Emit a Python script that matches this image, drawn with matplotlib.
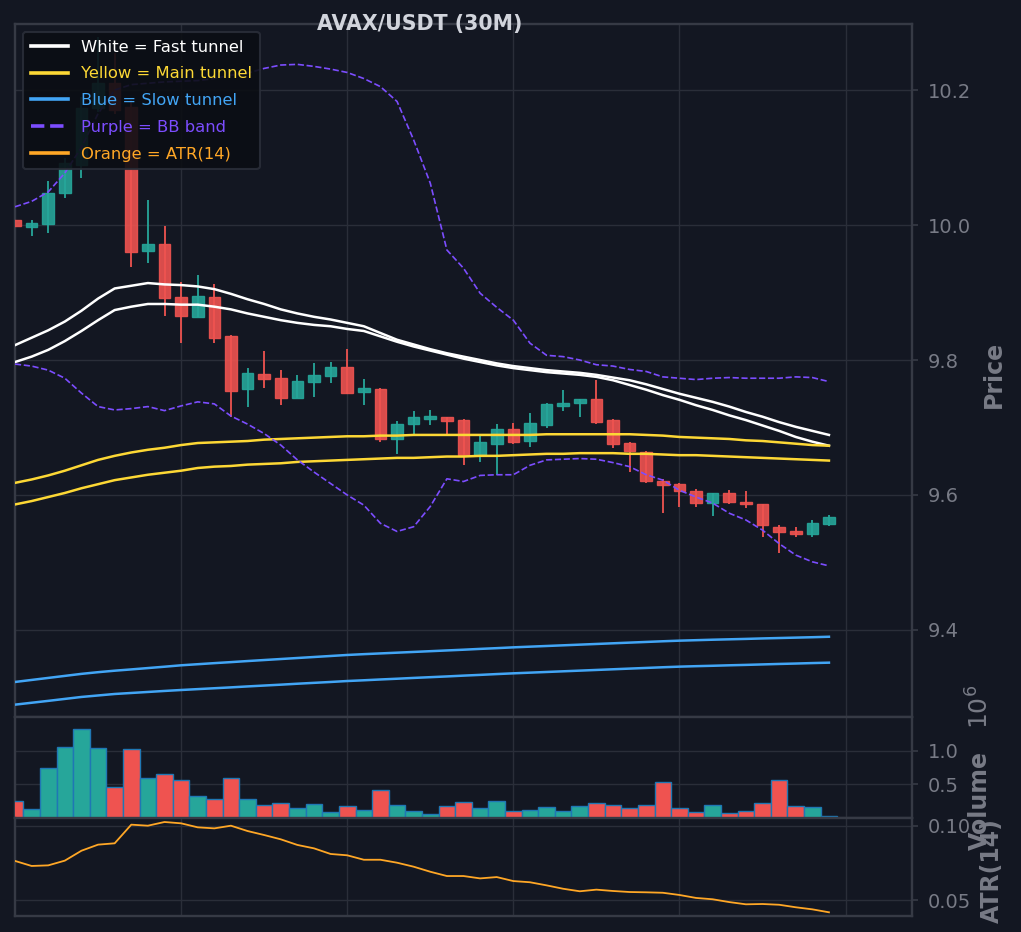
import numpy as np
import matplotlib
matplotlib.use('Agg')
import matplotlib.pyplot as plt
from matplotlib.lines import Line2D
from matplotlib.ticker import FuncFormatter

# --- data (AVAX/USDT, 30m candles) ---
opens = [10.008, 9.997, 10.002, 10.047, 10.089, 10.173, 10.210, 10.175, 9.961, 9.972,
         9.893, 9.864, 9.893, 9.836, 9.757, 9.779, 9.773, 9.744, 9.767, 9.776,
         9.790, 9.753, 9.757, 9.683, 9.705, 9.713, 9.716, 9.711, 9.659, 9.676,
         9.698, 9.680, 9.704, 9.732, 9.736, 9.742, 9.711, 9.677, 9.664, 9.621,
         9.616, 9.606, 9.588, 9.603, 9.590, 9.587, 9.553, 9.547, 9.542, 9.557]
highs = [10.012, 10.007, 10.065, 10.100, 10.190, 10.279, 10.255, 10.185, 10.037, 9.999,
         9.916, 9.926, 9.913, 9.837, 9.788, 9.813, 9.785, 9.778, 9.796, 9.797,
         9.816, 9.772, 9.759, 9.710, 9.724, 9.726, 9.716, 9.713, 9.690, 9.705,
         9.707, 9.721, 9.736, 9.756, 9.742, 9.770, 9.713, 9.679, 9.665, 9.624,
         9.618, 9.609, 9.603, 9.607, 9.606, 9.587, 9.556, 9.553, 9.563, 9.570]
lows = [9.996, 9.984, 9.988, 10.040, 10.070, 10.168, 10.165, 9.938, 9.944, 9.865,
        9.825, 9.864, 9.825, 9.716, 9.730, 9.758, 9.733, 9.744, 9.745, 9.766,
        9.750, 9.733, 9.679, 9.661, 9.690, 9.704, 9.690, 9.644, 9.649, 9.630,
        9.676, 9.671, 9.699, 9.724, 9.716, 9.705, 9.670, 9.634, 9.618, 9.573,
        9.582, 9.582, 9.569, 9.587, 9.581, 9.538, 9.514, 9.538, 9.538, 9.554]
closes = [9.998, 10.003, 10.047, 10.092, 10.173, 10.210, 10.170, 9.960, 9.972, 9.892,
          9.865, 9.895, 9.833, 9.754, 9.781, 9.772, 9.744, 9.769, 9.778, 9.790,
          9.751, 9.758, 9.683, 9.705, 9.716, 9.717, 9.710, 9.659, 9.679, 9.698,
          9.679, 9.707, 9.735, 9.736, 9.742, 9.708, 9.676, 9.665, 9.621, 9.615,
          9.606, 9.588, 9.603, 9.590, 9.587, 9.556, 9.545, 9.542, 9.559, 9.567]
volume_m = [0.25, 0.128, 0.745, 1.06, 1.32, 1.044, 0.466, 1.02, 0.598, 0.657,
            0.569, 0.333, 0.289, 0.598, 0.275, 0.196, 0.216, 0.147, 0.201, 0.083,
            0.172, 0.118, 0.422, 0.186, 0.098, 0.054, 0.172, 0.231, 0.142, 0.25,
            0.098, 0.118, 0.157, 0.098, 0.172, 0.216, 0.196, 0.142, 0.196, 0.539,
            0.142, 0.093, 0.186, 0.078, 0.098, 0.216, 0.569, 0.172, 0.157, 0.025]
atr14 = [0.0764, 0.0730, 0.0734, 0.0766, 0.0833, 0.0874, 0.0883, 0.1009, 0.1002, 0.1027,
         0.1018, 0.0991, 0.0984, 0.1002, 0.0966, 0.0939, 0.0910, 0.0872, 0.0849, 0.0811,
         0.0802, 0.0772, 0.0772, 0.0752, 0.0725, 0.0691, 0.0662, 0.0662, 0.0646, 0.0655,
         0.0628, 0.0620, 0.0599, 0.0576, 0.0559, 0.0570, 0.0561, 0.0554, 0.0552, 0.0549,
         0.0534, 0.0514, 0.0505, 0.0486, 0.0471, 0.0473, 0.0468, 0.0451, 0.0437, 0.0417]

fast_hi = [9.822, 9.833, 9.844, 9.857, 9.873, 9.891, 9.906, 9.910, 9.914, 9.912,
           9.911, 9.909, 9.905, 9.898, 9.890, 9.883, 9.875, 9.869, 9.864, 9.860,
           9.855, 9.850, 9.840, 9.830, 9.823, 9.816, 9.810, 9.805, 9.800, 9.795,
           9.791, 9.788, 9.785, 9.783, 9.781, 9.778, 9.774, 9.770, 9.764, 9.757,
           9.750, 9.744, 9.738, 9.731, 9.723, 9.716, 9.708, 9.701, 9.695, 9.689]
fast_lo = [9.797, 9.805, 9.815, 9.828, 9.843, 9.859, 9.874, 9.879, 9.883, 9.883,
           9.882, 9.882, 9.879, 9.875, 9.869, 9.864, 9.859, 9.855, 9.852, 9.850,
           9.846, 9.843, 9.835, 9.827, 9.820, 9.814, 9.808, 9.802, 9.797, 9.792,
           9.788, 9.785, 9.782, 9.780, 9.778, 9.775, 9.770, 9.763, 9.756, 9.748,
           9.741, 9.733, 9.726, 9.718, 9.711, 9.703, 9.695, 9.686, 9.679, 9.673]
main_hi = [9.618, 9.623, 9.629, 9.636, 9.644, 9.652, 9.658, 9.663, 9.667, 9.670,
           9.674, 9.677, 9.678, 9.679, 9.680, 9.682, 9.683, 9.684, 9.685, 9.686,
           9.687, 9.687, 9.688, 9.688, 9.689, 9.689, 9.689, 9.689, 9.689, 9.689,
           9.689, 9.689, 9.690, 9.690, 9.690, 9.690, 9.690, 9.690, 9.689, 9.688,
           9.686, 9.685, 9.684, 9.683, 9.681, 9.680, 9.678, 9.676, 9.674, 9.673]
main_lo = [9.586, 9.591, 9.597, 9.603, 9.610, 9.616, 9.622, 9.626, 9.630, 9.633,
           9.636, 9.640, 9.642, 9.643, 9.645, 9.646, 9.647, 9.649, 9.650, 9.651,
           9.652, 9.653, 9.654, 9.655, 9.655, 9.656, 9.657, 9.657, 9.658, 9.658,
           9.659, 9.660, 9.661, 9.661, 9.662, 9.662, 9.662, 9.661, 9.661, 9.660,
           9.659, 9.659, 9.658, 9.657, 9.656, 9.655, 9.654, 9.653, 9.652, 9.651]
slow_hi = [9.3230, 9.3260, 9.3290, 9.3320, 9.3350, 9.3375, 9.3397, 9.3416, 9.3436, 9.3456,
           9.3477, 9.3493, 9.3509, 9.3524, 9.3540, 9.3555, 9.3570, 9.3585, 9.3600, 9.3615,
           9.3630, 9.3642, 9.3653, 9.3664, 9.3675, 9.3686, 9.3697, 9.3708, 9.3720, 9.3731,
           9.3743, 9.3753, 9.3763, 9.3773, 9.3783, 9.3793, 9.3803, 9.3813, 9.3823, 9.3833,
           9.3842, 9.3849, 9.3856, 9.3862, 9.3868, 9.3875, 9.3881, 9.3887, 9.3893, 9.3900]
slow_lo = [9.2894, 9.2922, 9.2950, 9.2979, 9.3008, 9.3030, 9.3052, 9.3067, 9.3082, 9.3097,
           9.3111, 9.3124, 9.3137, 9.3150, 9.3164, 9.3177, 9.3190, 9.3204, 9.3217, 9.3230,
           9.3244, 9.3255, 9.3267, 9.3278, 9.3290, 9.3301, 9.3312, 9.3324, 9.3335, 9.3347,
           9.3358, 9.3368, 9.3378, 9.3388, 9.3398, 9.3408, 9.3418, 9.3428, 9.3438, 9.3448,
           9.3457, 9.3464, 9.3470, 9.3477, 9.3483, 9.3490, 9.3497, 9.3503, 9.3510, 9.3516]
bb_up = [10.027, 10.035, 10.049, 10.077, 10.115, 10.165, 10.200, 10.208, 10.210, 10.212,
         10.213, 10.214, 10.217, 10.222, 10.225, 10.232, 10.237, 10.238, 10.235, 10.231,
         10.226, 10.217, 10.205, 10.183, 10.126, 10.062, 9.963, 9.936, 9.899, 9.878,
         9.859, 9.825, 9.807, 9.805, 9.800, 9.793, 9.791, 9.786, 9.783, 9.775,
         9.773, 9.771, 9.773, 9.774, 9.773, 9.773, 9.773, 9.775, 9.774, 9.768]
bb_dn = [9.794, 9.791, 9.785, 9.773, 9.751, 9.731, 9.726, 9.728, 9.731, 9.725,
         9.732, 9.738, 9.735, 9.717, 9.705, 9.691, 9.674, 9.652, 9.634, 9.617,
         9.600, 9.585, 9.558, 9.546, 9.553, 9.583, 9.624, 9.620, 9.629, 9.630,
         9.630, 9.644, 9.652, 9.653, 9.654, 9.653, 9.648, 9.642, 9.630, 9.622,
         9.607, 9.597, 9.588, 9.573, 9.563, 9.548, 9.528, 9.511, 9.501, 9.495]

price_ticks = [9.4, 9.6, 9.8, 10.0, 10.2]
vol_ticks = [0.5e6, 1.0e6]
atr_ticks = [0.05, 0.10]

BG = '#131722'
GRID = '#2a2e39'
SPINE = '#363a45'
TXT = '#787b86'
UP = '#26a69a'
DOWN = '#ef5350'
WHITE = '#ffffff'
YELLOW = '#fdd835'
BLUE = '#42a5f5'
PURPLE = '#7c4dff'
ORANGE = '#ffa726'

o = np.array(opens); h = np.array(highs); l = np.array(lows); c = np.array(closes)
x = np.arange(len(o))
colors = np.where(c >= o, UP, DOWN)

fig = plt.figure(figsize=(10.21, 9.32), dpi=100, facecolor=BG)
W, H = 1021, 932
def rect(x0, y0, x1, y1):
    return [x0 / W, 1 - y1 / H, (x1 - x0) / W, (y1 - y0) / H]

ax = fig.add_axes(rect(15, 24, 912, 717))
axv = fig.add_axes(rect(15, 717, 912, 818), sharex=ax)
axa = fig.add_axes(rect(15, 818, 912, 916), sharex=ax)

for a in (ax, axv, axa):
    a.set_facecolor(BG)
    for s in a.spines.values():
        s.set_color(SPINE)
        s.set_linewidth(1.7)
    a.yaxis.tick_right()
    a.tick_params(axis='y', colors=SPINE, labelcolor=TXT, labelsize=14, length=4.5, pad=7, width=1.2)
    a.tick_params(axis='x', length=0, labelbottom=False)
    a.grid(True, color=GRID, lw=1)
    a.set_axisbelow(True)

# candles
ax.vlines(x, l, h, colors=colors, lw=1.3, zorder=2)
ax.bar(x, np.abs(c - o), bottom=np.minimum(o, c), width=0.7, color=colors,
       edgecolor=colors, lw=1, alpha=0.9, zorder=3)

# tunnels and bands
for hi, lo, col in [(fast_hi, fast_lo, WHITE), (main_hi, main_lo, YELLOW), (slow_hi, slow_lo, BLUE)]:
    ax.plot(x, hi, color=col, lw=1.8, zorder=4)
    ax.plot(x, lo, color=col, lw=1.8, zorder=4)
ax.plot(x, bb_up, color=PURPLE, lw=1.2, ls='--', zorder=4)
ax.plot(x, bb_dn, color=PURPLE, lw=1.2, ls='--', zorder=4)

ax.set_xlim(0, 54)
ax.set_xticks([10, 20, 30, 40, 50])
ax.set_ylim(9.2711, 10.2978)
ax.set_yticks(price_ticks)
ax.yaxis.set_major_formatter(FuncFormatter(lambda v, p: f'{v:.1f}'))

handles = [Line2D([], [], color=WHITE, lw=2.6),
           Line2D([], [], color=YELLOW, lw=2.6),
           Line2D([], [], color=BLUE, lw=2.6),
           Line2D([], [], color=PURPLE, lw=2.6, ls='--'),
           Line2D([], [], color=ORANGE, lw=2.6)]
labels = ['White = Fast tunnel', 'Yellow = Main tunnel', 'Blue = Slow tunnel',
          'Purple = BB band', 'Orange = ATR(14)']
leg = ax.legend(handles, labels, loc='upper left', fontsize=11.8, handlelength=2.3,
                labelspacing=0.72, borderpad=0.45,
                facecolor='#0b0e14', edgecolor=GRID, framealpha=0.9,
                labelcolor=[WHITE, YELLOW, BLUE, PURPLE, ORANGE])
leg.get_frame().set_linewidth(1.5)
leg.set_zorder(10)

# volume
vol = np.array(volume_m) * 1e6
axv.bar(x, vol, width=1.0, color=colors, edgecolor='#1f77b4', lw=1, zorder=3)
axv.set_ylim(0, 1.5e6)
axv.set_yticks(vol_ticks)
axv.yaxis.set_major_formatter(FuncFormatter(lambda v, p: f'{v / 1e6:.1f}'))
fig.text(980 / W, 1 - 707 / H, r'$10^{6}$', rotation=90, ha='center', va='center',
         color=TXT, fontsize=18)

# ATR
axa.plot(x, atr14, color=ORANGE, lw=1.3, zorder=3)
axa.set_ylim(0.0392, 0.1054)
axa.set_yticks(atr_ticks)
axa.yaxis.set_major_formatter(FuncFormatter(lambda v, p: f'{v:.2f}'))

# axis labels
for a, name, cx, cy in [(ax, 'Price', 1.0914, 0.495), (axv, 'Volume', 1.0758, 0.178),
                        (axa, 'ATR(14)', 1.089, 0.459)]:
    a.set_ylabel(name, color=TXT, fontsize=17, fontweight='bold')
    a.yaxis.set_label_position('right')
    a.yaxis.label.set_va('center')
    a.yaxis.label.set_ha('center')
    a.yaxis.set_label_coords(cx, cy)

fig.text(420 / W, 1 - 24 / H, 'AVAX/USDT (30M)', ha='center', va='center',
         color='#d1d4dc', fontsize=14.8, fontweight='bold')

fig.savefig('out.png', dpi=100, facecolor=BG)
